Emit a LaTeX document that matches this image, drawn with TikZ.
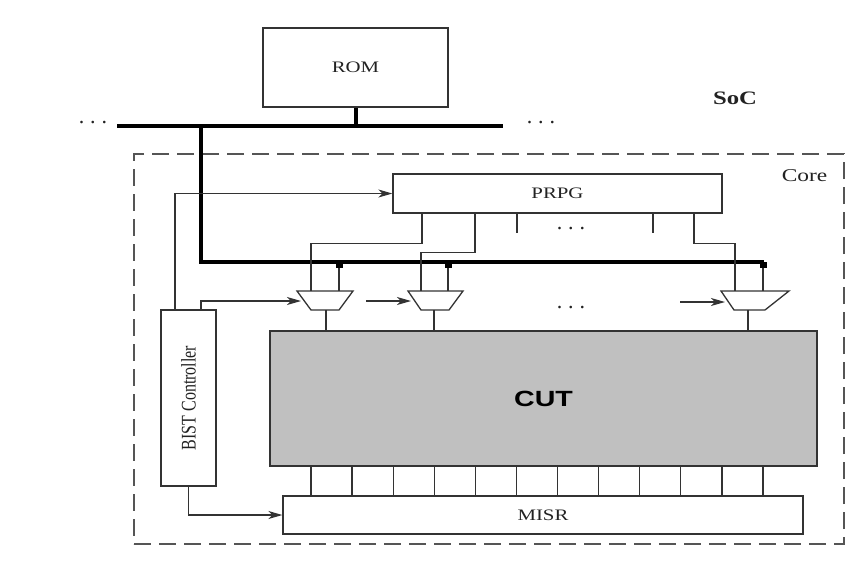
\documentclass[tikz,border=0pt]{standalone}
\usepackage{fontspec}
\setmainfont{Liberation Serif}
\newfontfamily\cutfont{Liberation Sans}
\usetikzlibrary{arrows.meta}
\definecolor{lc}{HTML}{333333}
\definecolor{tc}{HTML}{222222}
\definecolor{dc}{HTML}{555555}
\definecolor{cutfill}{HTML}{C0C0C0}
\newcommand\hx[1]{\scalebox{1.3}[1]{#1}}
\newcommand\tdots{.\hspace{6pt}.\hspace{6pt}.}
\begin{document}
\begin{tikzpicture}[x=1pt,y=-1pt,
  ln/.style={draw=lc, line width=1.3pt},
  box/.style={draw=lc, line width=1.3pt, rectangle, inner sep=0pt,
    font=\fontsize{16}{16}\selectfont, text=tc},
  buspath/.style={draw=black, line width=4pt},
  arr/.style={ln, -{Stealth[length=14pt,width=8pt,inset=4pt]}},
  muxshape/.style={draw=lc, line width=1.3pt, line join=miter},
  lbl/.style={inner sep=0pt, text=tc},
  dotsl/.style={inner sep=0pt, anchor=base, text=tc, font=\fontsize{22}{22}\selectfont},
  junc/.style={fill=black, inner sep=0pt, minimum width=7pt, minimum height=6pt, rectangle}
]
\path[use as bounding box] (0,0) rectangle (859,560);

% core frame
\node[draw=dc, line width=1.3pt, dash pattern=on 17pt off 8pt, minimum width=710pt,
  minimum height=390pt, inner sep=0pt] (core) at (489,349) {};
\node[lbl, font=\fontsize{18}{18}\selectfont] (corelbl) at (804.5,176) {\hx{Core}};
\node[lbl, font=\fontsize{19}{19}\selectfont\bfseries] (soc) at (735,98.5) {\hx{SoC}};

% ROM and system bus
\node[box, minimum width=185pt, minimum height=79pt] (rom) at (355.5,67.5) {\hx{ROM}};
\coordinate (busL) at (117,125.5);
\coordinate (busR) at (503,125.5);
\coordinate (busJ) at (201,125.5);
\coordinate (busC) at (201,262);
\coordinate (busE) at (764,262);
\draw[buspath] (busL) -- (busR);
\draw[buspath] (rom.south) -- (rom.south |- busL);
\draw[buspath, line join=miter] (busJ) -- (busC) -- (busE);
\node[dotsl] (dl) at (93,123) {\tdots};
\node[dotsl] (dr) at (541,123) {\tdots};

% blocks
\node[box, minimum width=329pt, minimum height=39pt] (prpg) at (557.5,193.5) {\hx{PRPG}};
\node[box, minimum width=55pt, minimum height=176pt] (bist) at (188.5,398)
  {\rotatebox{90}{\scalebox{1}[1.3]{BIST Controller}}};
\node[box, fill=cutfill, minimum width=547pt, minimum height=135pt,
  font=\fontsize{22}{22}\cutfont\bfseries, text=black] (cut) at (543.5,398.5) {\hx{CUT}};
\node[box, minimum width=520pt, minimum height=38pt] (misr) at (543,515) {\hx{MISR}};

% multiplexers (trapezoids, wide side on top)
\draw[muxshape] (297,291) coordinate (mux1tl) -- (353,291) coordinate (mux1tr)
  -- (339,310) coordinate (mux1br) -- (311,310) coordinate (mux1bl) -- cycle;
\draw[muxshape] (408,291) coordinate (mux2tl) -- (463,291) coordinate (mux2tr)
  -- (449,310) coordinate (mux2br) -- (421,310) coordinate (mux2bl) -- cycle;
\draw[muxshape] (721,291) coordinate (mux3tl) -- (789,291) coordinate (mux3tr)
  -- (765,310) coordinate (mux3br) -- (734,310) coordinate (mux3bl) -- cycle;
\coordinate (m1a) at (311,291);
\coordinate (m1s) at (339,291);
\coordinate (m2a) at (421,291);
\coordinate (m2s) at (448,291);
\coordinate (m3a) at (735,291);
\coordinate (m3s) at (763,291);
\coordinate (m1o) at (326,310);
\coordinate (m2o) at (434,310);
\coordinate (m3o) at (748,310);

% bus taps to multiplexers
\draw[ln] (m1s |- busC) -- (m1s);
\draw[ln] (m2s |- busC) -- (m2s);
\draw[ln] (m3s |- busC) -- (m3s);
\node[junc] (j1) at (339,265) {};
\node[junc] (j2) at (448,265) {};
\node[junc] (j3) at (763,264.5) {};

% PRPG outputs
\draw[ln] ([xshift=-135.5pt]prpg.south) -- ++(0,30) -| (m1a);
\draw[ln] ([xshift=-82.5pt]prpg.south) -- ++(0,39) -| (m2a);
\draw[ln] ([xshift=-40.5pt]prpg.south) -- ++(0,19);
\draw[ln] ([xshift=95.5pt]prpg.south) -- ++(0,19);
\draw[ln] ([xshift=136.5pt]prpg.south) -- ++(0,30) -| (m3a);
\node[dotsl] (dp) at (571,229.5) {\tdots};

% multiplexer outputs to CUT
\draw[ln] (m1o) -- (m1o |- cut.north);
\draw[ln] (m2o) -- (m2o |- cut.north);
\draw[ln] (m3o) -- (m3o |- cut.north);

% select inputs
\coordinate (a1e) at (301,301);
\coordinate (a2s) at (366,301);
\coordinate (a2e) at (411,301);
\coordinate (a3s) at (680,302);
\coordinate (a3e) at (725,302);
\draw[arr] ([xshift=12.5pt]bist.north) |- (a1e);
\draw[arr] (a2s) -- (a2e);
\draw[arr] (a3s) -- (a3e);
\node[dotsl] (dm) at (571,308) {\tdots};

% controller connections
\draw[arr] ([xshift=-13.5pt]bist.north) |- (prpg.west);
\draw[arr] (bist.south) |- (misr.west);

% CUT to MISR
\foreach \i in {0,...,11}{
  \draw[ln] ([xshift={311+41.09*\i-543.5}]cut.south) -- ([xshift={311+41.09*\i-543}]misr.north);
}
\end{tikzpicture}
\end{document}
